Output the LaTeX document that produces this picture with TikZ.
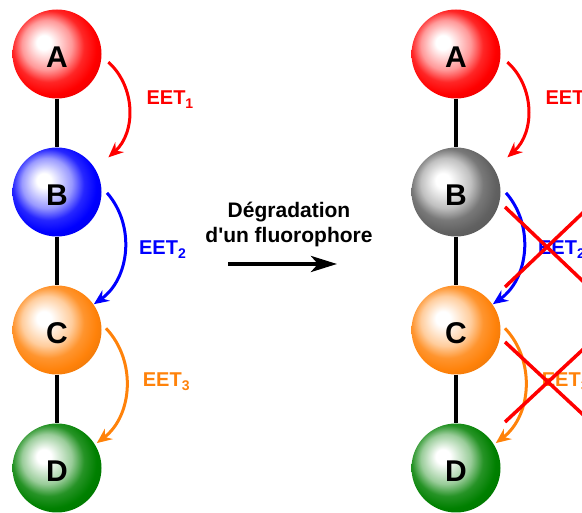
\documentclass[tikz,border=0pt]{standalone}
\usepackage{fontspec}
\setmainfont{Liberation Sans}
\usetikzlibrary{arrows.meta,calc,positioning}

\definecolor{fluored}{RGB}{255,0,0}
\definecolor{fluoblue}{RGB}{0,0,255}
\definecolor{fluoorange}{RGB}{255,130,10}
\definecolor{fluogreen}{RGB}{0,128,0}
\colorlet{fluogray}{black!62}
\colorlet{spherecol}{red}
\pgfdeclareradialshading[spherecol]{fluoball}{\pgfpoint{-8bp}{7bp}}{%
  color(0bp)=(white); color(4bp)=(white); color(14bp)=(spherecol!40!white);
  color(20bp)=(spherecol!85!white); color(26bp)=(spherecol);
  color(34bp)=(spherecol!88!black); color(50bp)=(spherecol!80!black)}

\newcommand{\eetname}[1]{EET\raisebox{-4pt}{\fontsize{14}{14}\selectfont #1}}

\tikzset{fluo/.style={circle, minimum size=89pt, inner sep=0pt, shading=fluoball, text height=28pt,
    /utils/exec={\colorlet{spherecol}{#1}}, font=\bfseries\fontsize{30}{30}\selectfont}}
\tikzstyle{stick}=[line width=3.5pt, black]
\tikzstyle{eet}=[line width=3pt, -{Stealth[length=15pt,width=13pt,inset=5pt]}, bend left=48]
\tikzstyle{eetlab}=[font=\bfseries\fontsize{20}{20}\selectfont, anchor=west, inner sep=0pt]
\tikzstyle{cross}=[line width=3.5pt, fluored]

\begin{document}
\begin{tikzpicture}[x=1pt, y=1pt, node distance=138pt]
\clip (0,0) rectangle (582,513);
% left chain
\node[fluo=fluored] (A) at (57,459) {A};
\node[fluo=fluoblue, below of=A] (B) {B};
\node[fluo=fluoorange, below of=B] (C) {C};
\node[fluo=fluogreen, below of=C] (D) {D};
% right chain
\node[fluo=fluored, right of=A, node distance=399pt] (A2) {A};
\node[fluo=fluogray, below of=A2] (B2) {B};
\node[fluo=fluoorange, below of=B2] (C2) {C};
\node[fluo=fluogreen, below of=C2] (D2) {D};

\draw[stick] (A) -- (B) (B) -- (C) (C) -- (D);
\draw[stick] (A2) -- (B2) (B2) -- (C2) (C2) -- (D2);

\path ($(A)+(-9:52pt)$) edge[eet, fluored] node[eetlab, text=fluored, xshift=16pt, yshift=10pt] {\eetname{1}} ($(B)+(34:62pt)$)
      ($(B)+(-1:50pt)$) edge[eet, fluoblue] node[eetlab, text=fluoblue, xshift=13pt, yshift=2pt] {\eetname{2}} ($(C)+(35:45pt)$)
      ($(C)+(2:49pt)$) edge[eet, fluoorange] node[eetlab, text=fluoorange, xshift=15pt, yshift=6pt] {\eetname{3}} ($(D)+(32:47pt)$);

\path ($(A2)+(-9:52pt)$) edge[eet, fluored] node[eetlab, text=fluored, xshift=16pt, yshift=10pt] {\eetname{1}} ($(B2)+(34:62pt)$)
      ($(B2)+(-1:50pt)$) edge[eet, fluoblue] node[eetlab, text=fluoblue, xshift=13pt, yshift=2pt] {\eetname{2}} ($(C2)+(35:45pt)$)
      ($(C2)+(2:49pt)$) edge[eet, fluoorange] node[eetlab, text=fluoorange, xshift=15pt, yshift=6pt] {\eetname{3}} ($(D2)+(32:47pt)$);

% transfers blocked
\draw[cross] (505,306) -- (589,226);
\draw[cross] (505,226) -- (589,306);
\draw[cross] (505,171) -- (591,91);
\draw[cross] (505,91) -- (591,171);

% middle
\node[align=center, font=\bfseries\fontsize{21}{25}\selectfont] (degr) at (289,289) {Dégradation\\d\textquotesingle un fluorophore};
\coordinate (degr w) at (228,249);
\coordinate (degr e) at (337,249);
\draw[line width=4pt, -{Stealth[length=26pt,width=16pt,inset=7pt]}] (degr w) -- (degr e);
\end{tikzpicture}
\end{document}
